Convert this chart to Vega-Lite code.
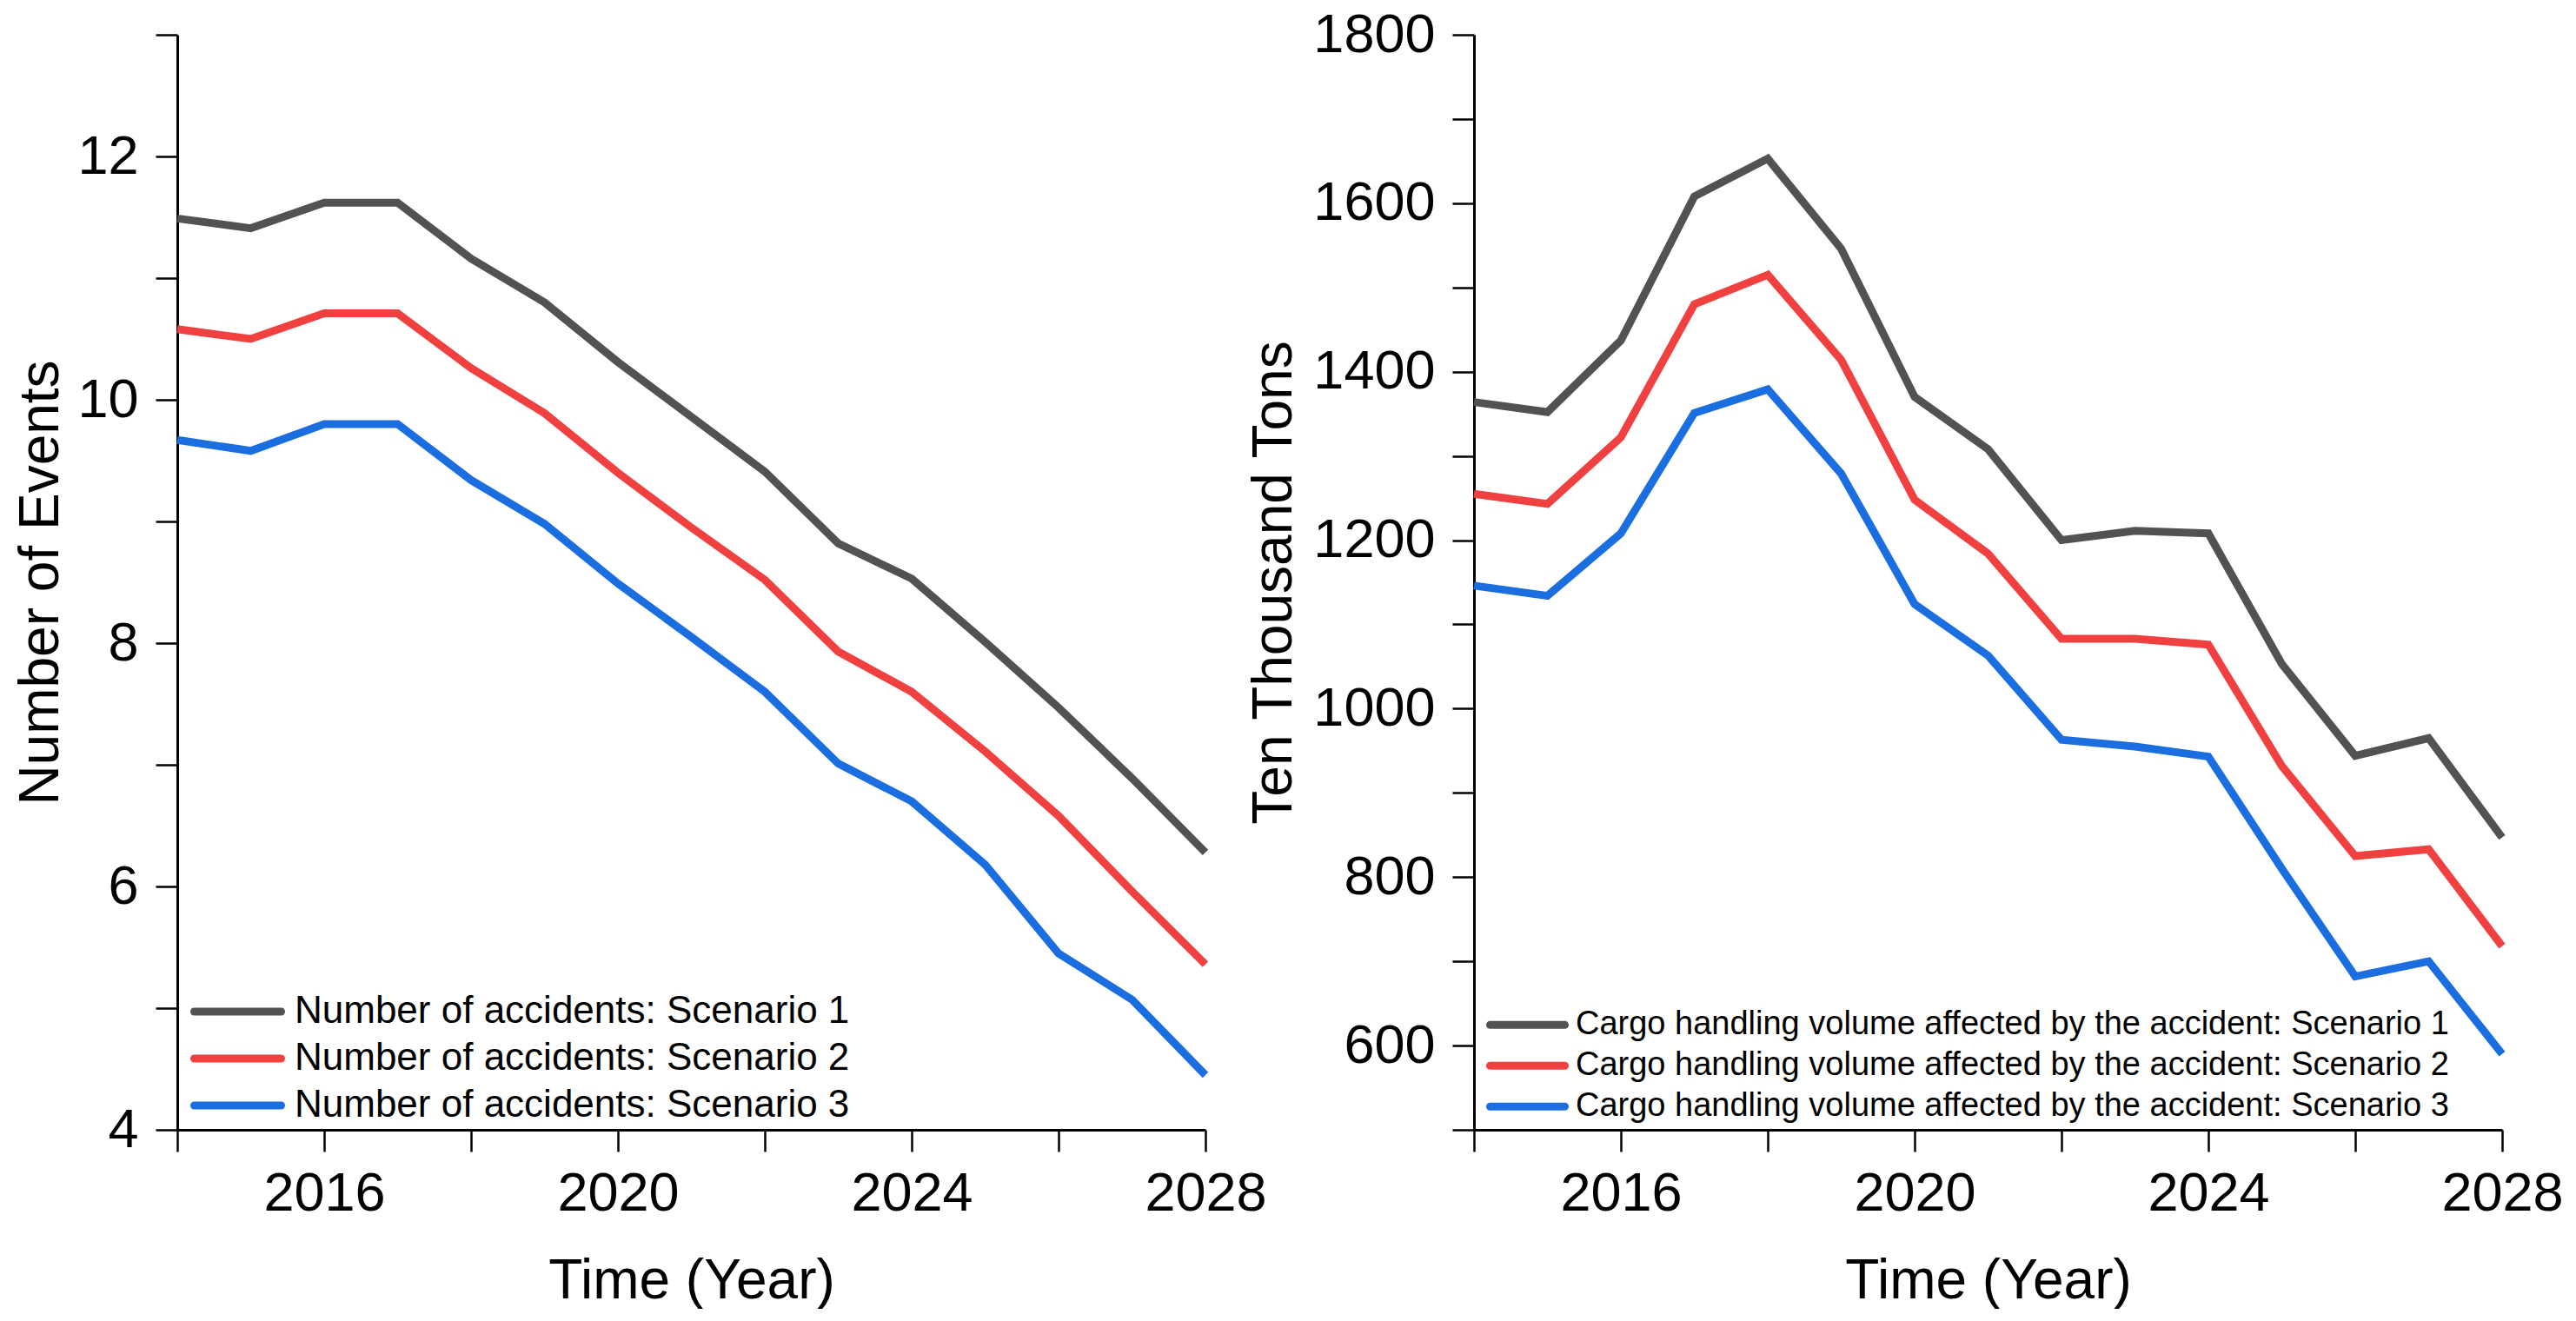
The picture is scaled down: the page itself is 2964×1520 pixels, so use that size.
{
  "$schema": "https://vega.github.io/schema/vega-lite/v6.json",
  "background": "white",
  "padding": {"left": 15, "top": 9, "right": 0, "bottom": 0},
  "config": {
    "view": {"stroke": null},
    "font": "Liberation Sans",
    "axis": {
      "grid": false,
      "domainColor": "black",
      "domainWidth": 3,
      "tickColor": "black",
      "tickWidth": 2.5,
      "tickSize": 25,
      "labelFont": "Liberation Sans",
      "labelFontSize": 63,
      "labelColor": "black",
      "labelFlush": false,
      "labelOverlap": false,
      "titleFont": "Liberation Sans",
      "titleFontSize": 64,
      "titleFontWeight": "normal",
      "titleColor": "black",
      "titleBaseline": "alphabetic"
    },
    "legend": {
      "orient": "none",
      "title": null,
      "symbolType": "stroke",
      "symbolStrokeWidth": 9,
      "rowPadding": 0,
      "symbolOffset": 0,
      "padding": 0,
      "labelFont": "Liberation Sans",
      "labelColor": "black",
      "labelLimit": 4000
    }
  },
  "datasets": {
    "accidents": [
      {"year": 2014, "value": 11.49, "series": "Number of accidents: Scenario 1"},
      {"year": 2015, "value": 11.41, "series": "Number of accidents: Scenario 1"},
      {"year": 2016, "value": 11.62, "series": "Number of accidents: Scenario 1"},
      {"year": 2017, "value": 11.62, "series": "Number of accidents: Scenario 1"},
      {"year": 2018, "value": 11.16, "series": "Number of accidents: Scenario 1"},
      {"year": 2019, "value": 10.80, "series": "Number of accidents: Scenario 1"},
      {"year": 2020, "value": 10.31, "series": "Number of accidents: Scenario 1"},
      {"year": 2021, "value": 9.86, "series": "Number of accidents: Scenario 1"},
      {"year": 2022, "value": 9.41, "series": "Number of accidents: Scenario 1"},
      {"year": 2023, "value": 8.82, "series": "Number of accidents: Scenario 1"},
      {"year": 2024, "value": 8.53, "series": "Number of accidents: Scenario 1"},
      {"year": 2025, "value": 8.01, "series": "Number of accidents: Scenario 1"},
      {"year": 2026, "value": 7.47, "series": "Number of accidents: Scenario 1"},
      {"year": 2027, "value": 6.89, "series": "Number of accidents: Scenario 1"},
      {"year": 2028, "value": 6.28, "series": "Number of accidents: Scenario 1"},
      {"year": 2014, "value": 10.58, "series": "Number of accidents: Scenario 2"},
      {"year": 2015, "value": 10.50, "series": "Number of accidents: Scenario 2"},
      {"year": 2016, "value": 10.71, "series": "Number of accidents: Scenario 2"},
      {"year": 2017, "value": 10.71, "series": "Number of accidents: Scenario 2"},
      {"year": 2018, "value": 10.26, "series": "Number of accidents: Scenario 2"},
      {"year": 2019, "value": 9.89, "series": "Number of accidents: Scenario 2"},
      {"year": 2020, "value": 9.40, "series": "Number of accidents: Scenario 2"},
      {"year": 2021, "value": 8.95, "series": "Number of accidents: Scenario 2"},
      {"year": 2022, "value": 8.52, "series": "Number of accidents: Scenario 2"},
      {"year": 2023, "value": 7.93, "series": "Number of accidents: Scenario 2"},
      {"year": 2024, "value": 7.60, "series": "Number of accidents: Scenario 2"},
      {"year": 2025, "value": 7.11, "series": "Number of accidents: Scenario 2"},
      {"year": 2026, "value": 6.58, "series": "Number of accidents: Scenario 2"},
      {"year": 2027, "value": 5.96, "series": "Number of accidents: Scenario 2"},
      {"year": 2028, "value": 5.36, "series": "Number of accidents: Scenario 2"},
      {"year": 2014, "value": 9.67, "series": "Number of accidents: Scenario 3"},
      {"year": 2015, "value": 9.58, "series": "Number of accidents: Scenario 3"},
      {"year": 2016, "value": 9.80, "series": "Number of accidents: Scenario 3"},
      {"year": 2017, "value": 9.80, "series": "Number of accidents: Scenario 3"},
      {"year": 2018, "value": 9.34, "series": "Number of accidents: Scenario 3"},
      {"year": 2019, "value": 8.98, "series": "Number of accidents: Scenario 3"},
      {"year": 2020, "value": 8.49, "series": "Number of accidents: Scenario 3"},
      {"year": 2021, "value": 8.05, "series": "Number of accidents: Scenario 3"},
      {"year": 2022, "value": 7.60, "series": "Number of accidents: Scenario 3"},
      {"year": 2023, "value": 7.01, "series": "Number of accidents: Scenario 3"},
      {"year": 2024, "value": 6.70, "series": "Number of accidents: Scenario 3"},
      {"year": 2025, "value": 6.18, "series": "Number of accidents: Scenario 3"},
      {"year": 2026, "value": 5.45, "series": "Number of accidents: Scenario 3"},
      {"year": 2027, "value": 5.07, "series": "Number of accidents: Scenario 3"},
      {"year": 2028, "value": 4.45, "series": "Number of accidents: Scenario 3"}
    ],
    "cargo": [
      {"year": 2014, "value": 1364, "series": "Cargo handling volume affected by the accident: Scenario 1"},
      {"year": 2015, "value": 1352, "series": "Cargo handling volume affected by the accident: Scenario 1"},
      {"year": 2016, "value": 1437, "series": "Cargo handling volume affected by the accident: Scenario 1"},
      {"year": 2017, "value": 1608, "series": "Cargo handling volume affected by the accident: Scenario 1"},
      {"year": 2018, "value": 1653, "series": "Cargo handling volume affected by the accident: Scenario 1"},
      {"year": 2019, "value": 1546, "series": "Cargo handling volume affected by the accident: Scenario 1"},
      {"year": 2020, "value": 1370, "series": "Cargo handling volume affected by the accident: Scenario 1"},
      {"year": 2021, "value": 1308, "series": "Cargo handling volume affected by the accident: Scenario 1"},
      {"year": 2022, "value": 1200, "series": "Cargo handling volume affected by the accident: Scenario 1"},
      {"year": 2023, "value": 1211, "series": "Cargo handling volume affected by the accident: Scenario 1"},
      {"year": 2024, "value": 1208, "series": "Cargo handling volume affected by the accident: Scenario 1"},
      {"year": 2025, "value": 1053, "series": "Cargo handling volume affected by the accident: Scenario 1"},
      {"year": 2026, "value": 944, "series": "Cargo handling volume affected by the accident: Scenario 1"},
      {"year": 2027, "value": 965, "series": "Cargo handling volume affected by the accident: Scenario 1"},
      {"year": 2028, "value": 847, "series": "Cargo handling volume affected by the accident: Scenario 1"},
      {"year": 2014, "value": 1255, "series": "Cargo handling volume affected by the accident: Scenario 2"},
      {"year": 2015, "value": 1243, "series": "Cargo handling volume affected by the accident: Scenario 2"},
      {"year": 2016, "value": 1322, "series": "Cargo handling volume affected by the accident: Scenario 2"},
      {"year": 2017, "value": 1480, "series": "Cargo handling volume affected by the accident: Scenario 2"},
      {"year": 2018, "value": 1515, "series": "Cargo handling volume affected by the accident: Scenario 2"},
      {"year": 2019, "value": 1414, "series": "Cargo handling volume affected by the accident: Scenario 2"},
      {"year": 2020, "value": 1248, "series": "Cargo handling volume affected by the accident: Scenario 2"},
      {"year": 2021, "value": 1184, "series": "Cargo handling volume affected by the accident: Scenario 2"},
      {"year": 2022, "value": 1083, "series": "Cargo handling volume affected by the accident: Scenario 2"},
      {"year": 2023, "value": 1083, "series": "Cargo handling volume affected by the accident: Scenario 2"},
      {"year": 2024, "value": 1076, "series": "Cargo handling volume affected by the accident: Scenario 2"},
      {"year": 2025, "value": 932, "series": "Cargo handling volume affected by the accident: Scenario 2"},
      {"year": 2026, "value": 825, "series": "Cargo handling volume affected by the accident: Scenario 2"},
      {"year": 2027, "value": 833, "series": "Cargo handling volume affected by the accident: Scenario 2"},
      {"year": 2028, "value": 718, "series": "Cargo handling volume affected by the accident: Scenario 2"},
      {"year": 2014, "value": 1146, "series": "Cargo handling volume affected by the accident: Scenario 3"},
      {"year": 2015, "value": 1134, "series": "Cargo handling volume affected by the accident: Scenario 3"},
      {"year": 2016, "value": 1208, "series": "Cargo handling volume affected by the accident: Scenario 3"},
      {"year": 2017, "value": 1351, "series": "Cargo handling volume affected by the accident: Scenario 3"},
      {"year": 2018, "value": 1379, "series": "Cargo handling volume affected by the accident: Scenario 3"},
      {"year": 2019, "value": 1279, "series": "Cargo handling volume affected by the accident: Scenario 3"},
      {"year": 2020, "value": 1124, "series": "Cargo handling volume affected by the accident: Scenario 3"},
      {"year": 2021, "value": 1063, "series": "Cargo handling volume affected by the accident: Scenario 3"},
      {"year": 2022, "value": 963, "series": "Cargo handling volume affected by the accident: Scenario 3"},
      {"year": 2023, "value": 955, "series": "Cargo handling volume affected by the accident: Scenario 3"},
      {"year": 2024, "value": 943, "series": "Cargo handling volume affected by the accident: Scenario 3"},
      {"year": 2025, "value": 810, "series": "Cargo handling volume affected by the accident: Scenario 3"},
      {"year": 2026, "value": 682, "series": "Cargo handling volume affected by the accident: Scenario 3"},
      {"year": 2027, "value": 700, "series": "Cargo handling volume affected by the accident: Scenario 3"},
      {"year": 2028, "value": 590, "series": "Cargo handling volume affected by the accident: Scenario 3"}
    ]
  },
  "hconcat": [
    {
      "width": 1183,
      "height": 1260,
      "data": {"name": "accidents"},
      "mark": {"type": "line", "strokeWidth": 9, "clip": false},
      "encoding": {
        "x": {
          "field": "year",
          "type": "quantitative",
          "scale": {"domain": [2014, 2028], "nice": false, "zero": false},
          "axis": {
            "title": "Time (Year)",
            "values": [2014, 2016, 2018, 2020, 2022, 2024, 2026, 2028],
            "format": "d",
            "labelExpr": "datum.value % 4 == 0 ? datum.label : ''",
            "labelPadding": 17,
            "titleY": 193,
            "encode": {"ticks": {"update": {"y2": {"signal": "datum.value % 4 == 0 ? 25 : 13"}}}}
          }
        },
        "y": {
          "field": "value",
          "type": "quantitative",
          "scale": {"domain": [4, 13], "nice": false, "zero": false},
          "axis": {
            "title": "Number of Events",
            "values": [4, 5, 6, 7, 8, 9, 10, 11, 12, 13],
            "format": "d",
            "labelExpr": "datum.value % 2 == 0 ? datum.label : ''",
            "labelPadding": 20,
            "titleAngle": -90,
            "titleX": -138,
            "titleY": 630,
            "encode": {"ticks": {"update": {"x2": {"signal": "datum.value % 2 == 0 ? -24 : -12"}}}}
          }
        },
        "color": {
          "field": "series",
          "type": "nominal",
          "scale": {
            "domain": ["Number of accidents: Scenario 1", "Number of accidents: Scenario 2", "Number of accidents: Scenario 3"],
            "range": ["#525252", "#F04040", "#1A6EE0"]
          },
          "legend": {
            "legendX": 15,
            "legendY": 1097,
            "symbolSize": 10000,
            "clipHeight": 54,
            "labelOffset": 11,
            "labelFontSize": 44,
            "encode": {"symbols": {"update": {"strokeCap": {"value": "round"}}}}
          }
        }
      }
    },
    {
      "width": 1183,
      "height": 1260,
      "data": {"name": "cargo"},
      "mark": {"type": "line", "strokeWidth": 9, "clip": false},
      "encoding": {
        "x": {
          "field": "year",
          "type": "quantitative",
          "scale": {"domain": [2014, 2028], "nice": false, "zero": false},
          "axis": {
            "title": "Time (Year)",
            "values": [2014, 2016, 2018, 2020, 2022, 2024, 2026, 2028],
            "format": "d",
            "labelExpr": "datum.value % 4 == 0 ? datum.label : ''",
            "labelPadding": 17,
            "titleY": 193,
            "encode": {"ticks": {"update": {"y2": {"signal": "datum.value % 4 == 0 ? 25 : 13"}}}}
          }
        },
        "y": {
          "field": "value",
          "type": "quantitative",
          "scale": {"domain": [500, 1800], "nice": false, "zero": false},
          "axis": {
            "title": "Ten Thousand Tons",
            "values": [500, 600, 700, 800, 900, 1000, 1100, 1200, 1300, 1400, 1500, 1600, 1700, 1800],
            "format": "d",
            "labelExpr": "datum.value % 200 == 0 ? datum.label : ''",
            "labelPadding": 20,
            "titleAngle": -90,
            "titleX": -211,
            "titleY": 630,
            "encode": {"ticks": {"update": {"x2": {"signal": "datum.value % 200 == 0 ? -24 : -12"}}}}
          }
        },
        "color": {
          "field": "series",
          "type": "nominal",
          "scale": {
            "domain": ["Cargo handling volume affected by the accident: Scenario 1", "Cargo handling volume affected by the accident: Scenario 2", "Cargo handling volume affected by the accident: Scenario 3"],
            "range": ["#525252", "#F04040", "#1A6EE0"]
          },
          "legend": {
            "legendX": 14,
            "legendY": 1116,
            "symbolSize": 7396,
            "clipHeight": 46.5,
            "labelOffset": 8,
            "labelFontSize": 38,
            "encode": {"symbols": {"update": {"strokeCap": {"value": "round"}}}}
          }
        }
      }
    }
  ],
  "spacing": 309,
  "bounds": "flush",
  "resolve": {"scale": {"color": "independent"}}
}
